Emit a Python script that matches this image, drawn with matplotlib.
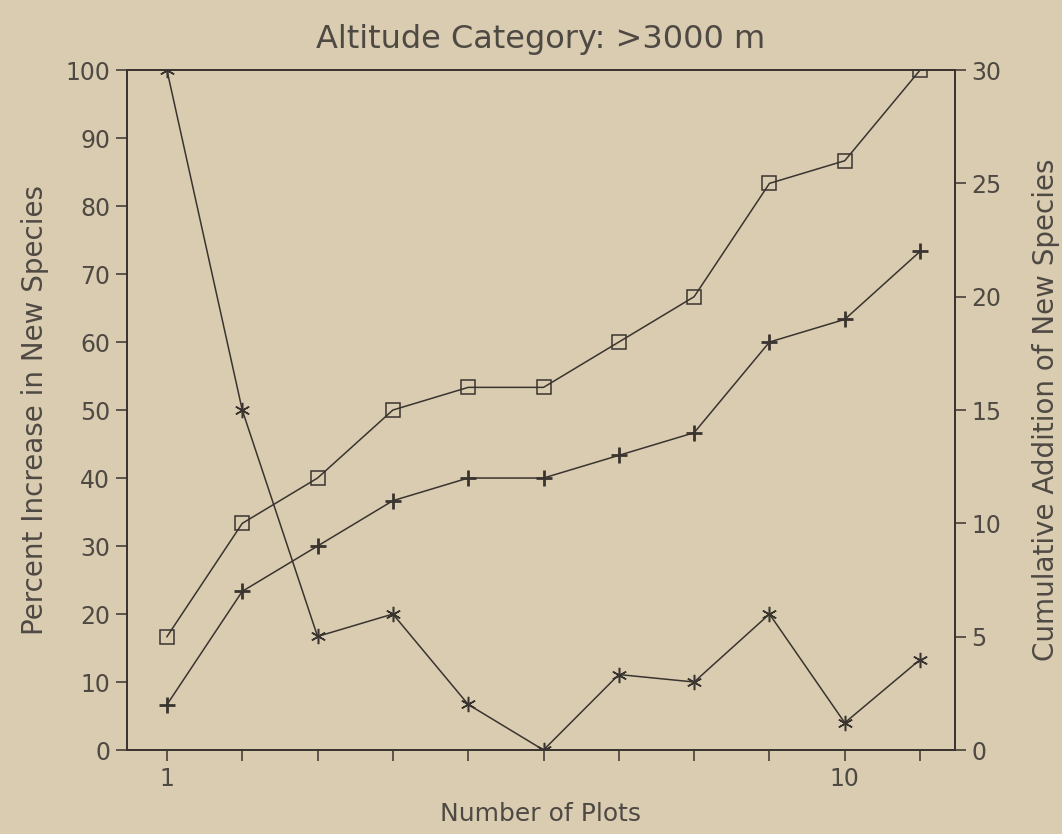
import matplotlib.pyplot as plt

# data
plots = [1, 2, 3, 4, 5, 6, 7, 8, 9, 10, 11]
pct_increase = [100, 50, 16.7, 20, 6.7, 0, 11.1, 10, 20, 4, 13.3]      # left axis, asterisks
cum_squares = [5, 10, 12, 15, 16, 16, 18, 20, 25, 26, 30]               # right axis, squares
cum_plus = [2, 7, 9, 11, 12, 12, 13, 14, 18, 19, 22]                    # right axis, plus

bg = '#d9ccb0'
ink = '#3a3430'
txt = '#4f4944'
plt.rcParams['font.family'] = ['DejaVu Sans']

fig = plt.figure(figsize=(10.62, 8.34), dpi=100, facecolor=bg)
ax = fig.add_axes([0.1196, 0.1007, 0.7794, 0.8153], facecolor=bg)
ax2 = ax.twinx()

ax.plot(plots, pct_increase, color=ink, lw=1.1, marker=(6, 2, 0), ms=11, mew=1.1)
ax2.plot(plots, cum_squares, color=ink, lw=1.1, marker='s', ms=10, mfc='none', mew=1.1)
ax2.plot(plots, cum_plus, color=ink, lw=1.1, marker='+', ms=12, mew=2)

ax.set_xlim(0.47, 11.46)
ax.set_ylim(0, 100)
ax2.set_ylim(0, 30)
ax.set_xticks(plots)
ax.set_xticklabels(['1' if p == 1 else '10' if p == 10 else '' for p in plots])
ax.set_yticks(range(0, 101, 10))
ax2.set_yticks(range(0, 31, 5))

for a in (ax, ax2):
    for s in a.spines.values():
        s.set_color(ink)
        s.set_linewidth(1.3)
    a.tick_params(colors=ink, labelcolor=txt, labelsize=17, length=8, width=1.1, direction='out', pad=4)

ax.set_xlabel('Number of Plots', fontsize=18, color=txt, labelpad=8)
ax.set_ylabel('Percent Increase in New Species', fontsize=20, color=txt, labelpad=12)
ax2.set_ylabel('Cumulative Addition of New Species', fontsize=20, color=txt, labelpad=22)
ax.set_title('Altitude Category: >3000 m', fontsize=23, color=txt, pad=16)

fig.savefig('out.png', dpi=100, facecolor=bg)
